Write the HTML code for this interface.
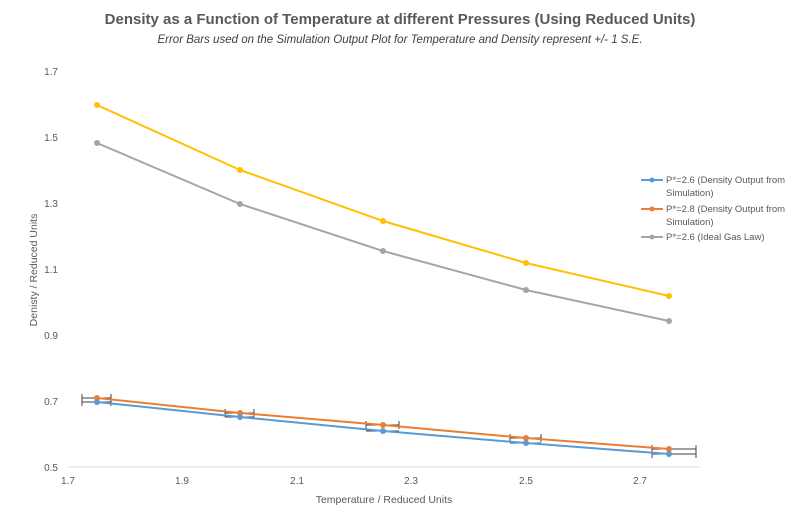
<!DOCTYPE html>
<html><head><meta charset="utf-8"><style>
body{margin:0;background:#fff;}
svg{display:block;font-family:"Liberation Sans",sans-serif;}
</style></head><body>
<svg width="800" height="515" viewBox="0 0 800 515">
<rect width="800" height="515" fill="#fff"/>
<text x="400" y="24" text-anchor="middle" font-size="15" font-weight="bold" fill="#595959">Density as a Function of Temperature at different Pressures (Using Reduced Units)</text>
<text x="400" y="43" text-anchor="middle" font-size="11.5" font-style="italic" fill="#404040">Error Bars used on the Simulation Output Plot for Temperature and Density represent +/- 1 S.E.</text>
<line x1="68" y1="467" x2="700" y2="467" stroke="#d9d9d9" stroke-width="1"/>
<g font-size="10" fill="#595959" text-anchor="end">
<text x="58" y="75">1.7</text><text x="58" y="141">1.5</text><text x="58" y="207">1.3</text>
<text x="58" y="273">1.1</text><text x="58" y="339">0.9</text><text x="58" y="405">0.7</text><text x="58" y="471">0.5</text>
</g>
<g font-size="10" fill="#595959" text-anchor="middle">
<text x="68" y="484">1.7</text><text x="182" y="484">1.9</text><text x="297" y="484">2.1</text>
<text x="411" y="484">2.3</text><text x="526" y="484">2.5</text><text x="640" y="484">2.7</text>
</g>
<text x="384" y="503" text-anchor="middle" font-size="10.5" fill="#595959">Temperature / Reduced Units</text>
<text transform="translate(37,270) rotate(-90)" text-anchor="middle" font-size="10.5" fill="#595959">Denisty / Reduced Units</text>
<g stroke="#404040" stroke-width="1" fill="none">
<path d="M82 398H111M82 394V402M111 394V402M225 413H254M225 409V417M254 409V417M366 425H399M366 421V429M399 421V429M510 438H541M510 434V442M541 434V442M652 449H696M652 445V453M696 445V453"/>
<path d="M82 402H111M225 417H254M366 431H399M510 443H541M652 454H696M652 450V458M696 450V458M82 398V406M111 398V406"/>
</g>
<g stroke-width="2" fill="none">
<polyline stroke="#ffc000" points="97,105 240,170 383,221 526,263 669,296"/>
<polyline stroke="#a5a5a5" points="97,143 240,204 383,251 526,290 669,321"/>
<polyline stroke="#ed7d31" points="97,398 240,413 383,425 526,438 669,449"/>
<polyline stroke="#5b9bd5" points="97,402 240,417 383,431 526,443 669,454"/>
</g>
<g fill="#ffc000"><circle cx="97" cy="105" r="3"/><circle cx="240" cy="170" r="3"/><circle cx="383" cy="221" r="3"/><circle cx="526" cy="263" r="3"/><circle cx="669" cy="296" r="3"/></g>
<g fill="#a5a5a5"><circle cx="97" cy="143" r="3"/><circle cx="240" cy="204" r="3"/><circle cx="383" cy="251" r="3"/><circle cx="526" cy="290" r="3"/><circle cx="669" cy="321" r="3"/></g>
<g fill="#ed7d31"><circle cx="97" cy="398" r="3"/><circle cx="240" cy="413" r="3"/><circle cx="383" cy="425" r="3"/><circle cx="526" cy="438" r="3"/><circle cx="669" cy="449" r="3"/></g>
<g fill="#5b9bd5"><circle cx="97" cy="402" r="3"/><circle cx="240" cy="417" r="3"/><circle cx="383" cy="431" r="3"/><circle cx="526" cy="443" r="3"/><circle cx="669" cy="454" r="3"/></g>
<g font-size="9.5" fill="#595959">
<line x1="641" y1="180" x2="663" y2="180" stroke="#5b9bd5" stroke-width="2"/><circle cx="652" cy="180" r="2.5" fill="#5b9bd5"/>
<text x="666" y="183">P*=2.6 (Density Output from</text><text x="666" y="196">Simulation)</text>
<line x1="641" y1="209" x2="663" y2="209" stroke="#ed7d31" stroke-width="2"/><circle cx="652" cy="209" r="2.5" fill="#ed7d31"/>
<text x="666" y="212">P*=2.8 (Density Output from</text><text x="666" y="225">Simulation)</text>
<line x1="641" y1="237" x2="663" y2="237" stroke="#a5a5a5" stroke-width="2"/><circle cx="652" cy="237" r="2.5" fill="#a5a5a5"/>
<text x="666" y="240">P*=2.6 (Ideal Gas Law)</text>
</g>
</svg>
</body></html>
